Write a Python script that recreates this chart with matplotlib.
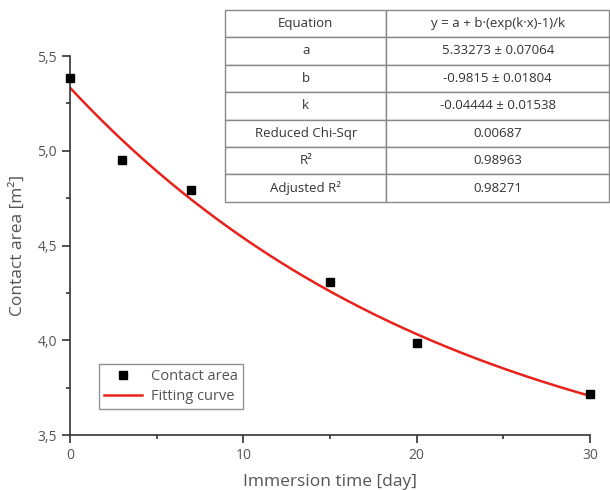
import numpy as np
import matplotlib.pyplot as plt
from matplotlib.ticker import MultipleLocator, FuncFormatter

plt.rcParams['font.family'] = ['Open Sans', 'DejaVu Sans']

# measured data
days = [0, 3, 7, 15, 20, 30]
area = [5.384, 4.951, 4.793, 4.307, 3.985, 3.716]

# fit parameters used for the drawn curve
fit_a = 5.33273
fit_b = -0.09815
fit_k = -0.04444

table_rows = [
    ["Equation", "y = a + b·(exp(k·x)-1)/k"],
    ["a", "5.33273 ± 0.07064"],
    ["b", "-0.9815 ± 0.01804"],
    ["k", "-0.04444 ± 0.01538"],
    ["Reduced Chi-Sqr", "0.00687"],
    ["R²", "0.98963"],
    ["Adjusted R²", "0.98271"],
]

grey = '#555555'
fig = plt.figure(figsize=(6.1, 4.9), dpi=100)
ax = fig.add_axes([0.1148, 0.1122, 0.8525, 0.7735])

xx = np.linspace(0, 30, 300)
yy = fit_a + fit_b * (np.exp(fit_k * xx) - 1) / fit_k
ax.plot(days, area, 's', color='black', ms=6, clip_on=False, zorder=3, label='Contact area')
ax.plot(xx, yy, '-', color='#e8221b', lw=1.8, label='Fitting curve')

ax.set_xlim(0, 30)
ax.set_ylim(3.5, 5.5)
ax.spines['top'].set_visible(False)
ax.spines['right'].set_visible(False)
for s in ['left', 'bottom']:
    ax.spines[s].set_color('#333333')
    ax.spines[s].set_linewidth(1.2)
ax.xaxis.set_major_locator(MultipleLocator(10))
ax.xaxis.set_minor_locator(MultipleLocator(5))
ax.yaxis.set_major_locator(MultipleLocator(0.5))
ax.yaxis.set_minor_locator(MultipleLocator(0.25))
ax.yaxis.set_major_formatter(FuncFormatter(lambda v, p: f"{v:.1f}".replace('.', ',')))
ax.tick_params(which='major', length=6, width=1.2, color='#333333', labelsize=10, labelcolor=grey)
ax.tick_params(which='minor', length=3, width=1.2, color='#333333')
ax.set_xlabel('Immersion time [day]', fontsize=12.5, color=grey, labelpad=8)
ax.set_ylabel('Contact area [m²]', fontsize=12.5, color=grey, labelpad=8)

leg = ax.legend(loc='lower left', bbox_to_anchor=(0.056, 0.069), borderaxespad=0,
                fancybox=False, fontsize=10.5, handlelength=2.6, handletextpad=0.6,
                labelspacing=0.35, borderpad=0.35)
leg.get_frame().set_edgecolor('#777777')
leg.get_frame().set_linewidth(1)
for t in leg.get_texts():
    t.set_color(grey)

tax = fig.add_axes([0.369, 0.588, 0.6295, 0.392])
tax.axis('off')
tbl = tax.table(cellText=table_rows, cellLoc='center', bbox=[0, 0, 1, 1],
                colWidths=[0.42, 0.58])
tbl.auto_set_font_size(False)
tbl.set_fontsize(9.5)
for (r, c), cell in tbl.get_celld().items():
    cell.set_edgecolor('#888888')
    cell.set_linewidth(1)
    cell.get_text().set_color('#333333')

fig.savefig('out.png', dpi=100)
